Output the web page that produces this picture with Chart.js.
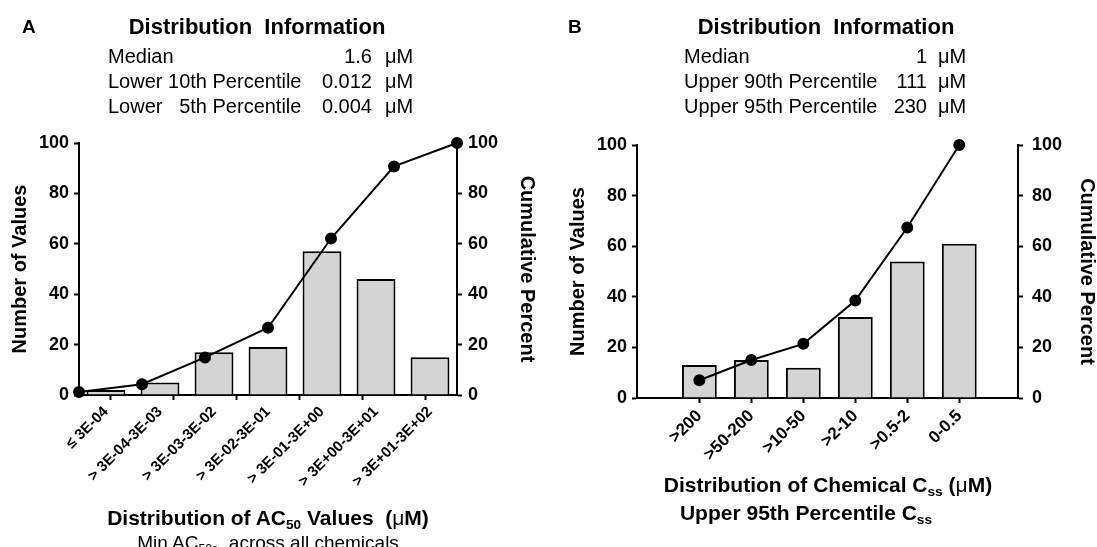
<!DOCTYPE html>
<html>
<head>
<meta charset="utf-8">
<script src="https://cdn.jsdelivr.net/npm/chart.js@4.4.1/dist/chart.umd.min.js"></script>
<style>
  body { margin: 0; background: #fff; }
  #page { position: relative; width: 1097px; height: 547px; overflow: hidden; font-family: "Liberation Sans", Arial, sans-serif; color: #000; }
  canvas { position: absolute; top: 0; }
  .t { position: absolute; white-space: pre; line-height: 1; }
  .b { font-weight: bold; }
  .row { font-size: 20px; line-height: 25px; }
  .c { text-align: center; width: 500px; }
  .r { text-align: right; width: 120px; }
  .mu { font-weight: normal; }
  sub { font-size: 65%; vertical-align: baseline; position: relative; top: 0.3em; }
</style>
</head>
<body>
<div id="page">
  <canvas id="chartA" width="548" height="547" style="left:0"></canvas>
  <canvas id="chartB" width="549" height="547" style="left:548px"></canvas>

  <!-- panel A header -->
  <div class="t b" style="left:22px;top:17px;font-size:19px">A</div>
  <div class="t b c" style="left:7px;top:16px;font-size:22px">Distribution  Information</div>
  <div class="t row" style="left:108px;top:44px">Median<br>Lower 10th Percentile<br>Lower   5th Percentile</div>
  <div class="t row r" style="left:252px;top:44px">1.6<br>0.012<br>0.004</div>
  <div class="t row" style="left:385px;top:44px">μM<br>μM<br>μM</div>

  <!-- panel B header -->
  <div class="t b" style="left:568px;top:17px;font-size:19px">B</div>
  <div class="t b c" style="left:576px;top:16px;font-size:22px">Distribution  Information</div>
  <div class="t row" style="left:684px;top:44px">Median<br>Upper 90th Percentile<br>Upper 95th Percentile</div>
  <div class="t row r" style="left:807px;top:44px">1<br>111<br>230</div>
  <div class="t row" style="left:938px;top:44px">μM<br>μM<br>μM</div>

  <!-- x axis titles -->
  <div class="t b c" style="left:18px;top:507px;font-size:21px">Distribution of AC<sub>50</sub> Values  (<span class="mu">μ</span>M)</div>
  <div class="t c" style="left:18px;top:533px;font-size:19px">Min AC<sub>50s</sub>, across all chemicals</div>
  <div class="t b c" style="left:578px;top:474px;font-size:21px">Distribution of Chemical C<sub>ss</sub> (<span class="mu">μ</span>M)</div>
  <div class="t b c" style="left:556px;top:502px;font-size:21px">Upper 95th Percentile C<sub>ss</sub></div>
</div>

<script>
const fontFamily = '"Liberation Sans", Arial, sans-serif';

// Panel A: AC50 distribution
const catsA = ['≤ 3E-04', '> 3E-04-3E-03', '> 3E-03-3E-02', '> 3E-02-3E-01',
               '> 3E-01-3E+00', '> 3E+00-3E+01', '> 3E+01-3E+02'];
const countsA = [2, 5, 17, 19, 57, 46, 15];
const cumA = [1.2, 4.3, 14.9, 26.7, 62.1, 90.7, 100];

// Panel B: Css distribution
const catsB = ['>200', '>50-200', '>10-50', '>2-10', '>0.5-2', '0-0.5'];
const countsB = [13, 15, 12, 32, 54, 61];
const cumB = [7, 15, 21.4, 38.5, 67.4, 100];

const yTicks = [0, 20, 40, 60, 80, 100];

function yAxis(pos, width, text, titlePad, labelPad) {
    return {
        position: pos,
        min: 0,
        max: 100,
        afterBuildTicks: s => { s.ticks = yTicks.map(v => ({ value: v })); },
        afterFit: s => { s.width = width; },
        border: { display: true, color: '#000', width: 2 },
        grid: { drawOnChartArea: false, color: '#000', tickLength: 5, tickWidth: 2 },
        ticks: { color: '#000', padding: labelPad, font: { family: fontFamily, size: 18, weight: 'bold' } },
        title: {
            display: true, text: text, color: '#000',
            font: { family: fontFamily, size: 20, weight: 'bold', lineHeight: 1 },
            padding: { top: titlePad, bottom: 0 }
        }
    };
}

const barStyle = {
    backgroundColor: '#d4d4d4',
    borderColor: '#000',
    borderWidth: 2,
    categoryPercentage: 1,
    grouped: false,
    order: 1,
    clip: false
};

const lineStyle = {
    type: 'line',
    borderColor: '#000',
    borderWidth: 2,
    pointRadius: 5,
    pointBackgroundColor: '#000',
    pointBorderColor: '#000',
    tension: 0,
    order: 0,
    clip: false
};

const commonOpts = {
    responsive: false,
    animation: false,
    plugins: { legend: { display: false }, tooltip: { enabled: false } }
};

// Chart A: bars on a category axis, cumulative line on its own 0..6 axis
new Chart(document.getElementById('chartA'), {
    type: 'bar',
    data: {
        labels: catsA,
        datasets: [
            Object.assign({ data: countsA, yAxisID: 'y', xAxisID: 'x', barPercentage: 0.72 }, barStyle),
            Object.assign({ data: cumA.map((v, i) => ({ x: i, y: v })), yAxisID: 'y1', xAxisID: 'x2' }, lineStyle)
        ]
    },
    options: Object.assign({}, commonOpts, {
        layout: { padding: { top: 143, left: 0, right: 0, bottom: 0 } },
        scales: {
            x: {
                weight: 1,
                afterFit: s => { s.height = 547 - 395; },
                border: { display: true, color: '#000', width: 2 },
                grid: { display: false, drawTicks: true, tickLength: 5 },
                ticks: {
                    color: '#000', minRotation: 45, maxRotation: 45, padding: 3,
                    font: { family: fontFamily, size: 15, weight: 'bold' }
                }
            },
            // tick marks of the original sit between the cumulative points
            x2: {
                type: 'linear',
                position: 'bottom',
                weight: 0,
                offset: false,
                min: 0,
                max: 6,
                afterBuildTicks: s => { s.ticks = [0.5, 1.5, 2.5, 3.5, 4.5, 5.5].map(v => ({ value: v })); },
                afterFit: s => { s.height = 0; },
                border: { display: false },
                grid: { offset: false, drawOnChartArea: false, color: '#000', tickLength: 5, tickWidth: 2 },
                ticks: { display: false }
            },
            y: yAxis('left', 79, 'Number of Values', 10, 5),
            y1: yAxis('right', 548 - 457, 'Cumulative Percent', 11, 6)
        }
    })
});

// Chart B: bars and line share a linear index axis
new Chart(document.getElementById('chartB'), {
    type: 'bar',
    data: {
        datasets: [
            Object.assign({ data: countsB.map((v, i) => ({ x: i, y: v })), yAxisID: 'y', barPercentage: 0.67 }, barStyle),
            Object.assign({ data: cumB.map((v, i) => ({ x: i, y: v })), yAxisID: 'y1' }, lineStyle)
        ]
    },
    options: Object.assign({}, commonOpts, {
        layout: { padding: { top: 145, left: 0, right: 0, bottom: 0 } },
        scales: {
            x: {
                type: 'linear',
                offset: false,
                min: -1.2,
                max: 6.13,
                afterBuildTicks: s => { s.ticks = catsB.map((c, i) => ({ value: i })); },
                afterFit: s => { s.height = 547 - 398; },
                border: { display: true, color: '#000', width: 2 },
                grid: { offset: false, drawOnChartArea: false, color: '#000', tickLength: 5, tickWidth: 2 },
                ticks: {
                    color: '#000', minRotation: 45, maxRotation: 45, padding: 3,
                    font: { family: fontFamily, size: 17, weight: 'bold' },
                    callback: v => catsB[v]
                }
            },
            y: yAxis('left', 637 - 548, 'Number of Values', 20, 5),
            y1: yAxis('right', 1097 - 1018, 'Cumulative Percent', 0, 9)
        }
    })
});
</script>
</body>
</html>
